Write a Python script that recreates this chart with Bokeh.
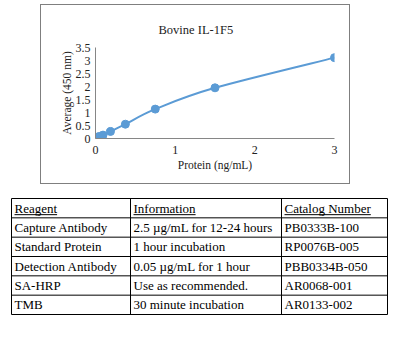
from bokeh.plotting import figure
from bokeh.layouts import column, row
from bokeh.models import Range1d, FixedTicker, CustomJSTickFormatter, Spacer
from bokeh.core.properties import value
from bokeh.embed import file_html
from bokeh.resources import INLINE

# ---- chart data ----
conc = [0, 0.023, 0.047, 0.094, 0.188, 0.375, 0.75, 1.5, 3]
od = [0.02, 0.05, 0.08, 0.13, 0.27, 0.55, 1.13, 1.95, 3.11]
x_ticks = [0, 1, 2, 3]
y_ticks = [0, 0.5, 1, 1.5, 2, 2.5, 3, 3.5]
title_text = "Bovine IL-1F5"
x_label = "Protein (ng/mL)"
y_label = "Average (450 nm)"

# ---- table data ----
headers = ["Reagent", "Information", "Catalog Number"]
reagents = ["Capture Antibody", "Standard Protein", "Detection Antibody", "SA-HRP", "TMB"]
information = ["2.5 µg/mL for 12-24 hours", "1 hour incubation", "0.05 µg/mL for 1 hour",
               "Use as recommended.", "30 minute incubation"]
catalog = ["PB0333B-100", "RP0076B-005", "PBB0334B-050", "AR0068-001", "AR0133-002"]

FONT = "Liberation Serif"
BLUE = "#5B9BD5"
TEXT = "#222222"
AXIS = "#868686"

# ---------------- chart ----------------
p = figure(width=310, height=180, x_range=Range1d(0, 3), y_range=Range1d(0, 3.5),
           output_backend="svg", toolbar_location=None, title=title_text,
           min_border_left=54, min_border_right=17, min_border_top=42, min_border_bottom=47)
p.styles = {"border": "1px solid #7f7f7f"}
p.outline_line_color = None
p.xgrid.grid_line_color = None
p.ygrid.grid_line_color = None

p.title.align = "left"
p.title.offset = 63
p.title.standoff = 21
p.title.text_font = FONT
p.title.text_font_size = "12.5px"
p.title.text_font_style = "normal"
p.title.text_color = TEXT

fmt = CustomJSTickFormatter(code="return tick.toString();")
p.xaxis.ticker = FixedTicker(ticks=x_ticks)
p.yaxis.ticker = FixedTicker(ticks=y_ticks)
p.yaxis.formatter = fmt
p.xaxis.formatter = fmt
for ax in (p.xaxis[0], p.yaxis[0]):
    ax.axis_line_color = AXIS
    ax.axis_line_width = 1
    ax.major_tick_line_color = None
    ax.major_tick_out = 0
    ax.major_tick_in = 0
    ax.minor_tick_line_color = None
    ax.major_label_text_font = FONT
    ax.major_label_text_font_size = "12px"
    ax.major_label_text_color = TEXT
    ax.axis_label_text_font = FONT
    ax.axis_label_text_font_size = "11.5px"
    ax.axis_label_text_font_style = "normal"
    ax.axis_label_text_color = TEXT
p.xaxis.major_label_standoff = 7
p.yaxis.major_label_standoff = 5
p.xaxis.axis_label_standoff = 2
p.yaxis.axis_label_standoff = 0
p.xaxis.axis_label = x_label
p.yaxis.axis_label = y_label

# smooth curve (Catmull-Rom -> cubic Bezier through the measured points)
n = len(conc)
x0s, y0s, x1s, y1s, cx0, cy0, cx1, cy1 = ([] for _ in range(8))
for i in range(n - 1):
    pa = (conc[max(i - 1, 0)], od[max(i - 1, 0)])
    pb = (conc[i], od[i])
    pc = (conc[i + 1], od[i + 1])
    pd = (conc[min(i + 2, n - 1)], od[min(i + 2, n - 1)])
    x0s.append(pb[0]); y0s.append(pb[1])
    x1s.append(pc[0]); y1s.append(pc[1])
    cx0.append(pb[0] + (pc[0] - pa[0]) / 6); cy0.append(pb[1] + (pc[1] - pa[1]) / 6)
    cx1.append(pc[0] - (pd[0] - pb[0]) / 6); cy1.append(pc[1] - (pd[1] - pb[1]) / 6)
p.bezier(x0=x0s, y0=y0s, x1=x1s, y1=y1s, cx0=cx0, cy0=cy0, cx1=cx1, cy1=cy1,
         line_color=BLUE, line_width=2)
p.scatter(conc, od, size=8, fill_color=BLUE, line_color=BLUE)

# ---------------- table ----------------
col_edges = [0, 119, 270, 376]
n_rows = len(reagents) + 1
row_h = 116 / n_rows
pad = 3
underline_w = [42.6, 62.1, 86.3]

t = figure(width=382, height=118, x_range=Range1d(-3, 379), y_range=Range1d(117, -1),
           output_backend="svg", toolbar_location=None, min_border=0)
t.axis.visible = False
t.xgrid.grid_line_color = None
t.ygrid.grid_line_color = None
t.outline_line_color = None

hy = [row_h * i for i in range(n_rows + 1)]
t.segment(x0=[col_edges[0]] * len(hy), y0=hy, x1=[col_edges[-1]] * len(hy), y1=hy,
          line_color="black", line_width=1)
t.segment(x0=col_edges, y0=[0] * len(col_edges), x1=col_edges, y1=[hy[-1]] * len(col_edges),
          line_color="black", line_width=1)

columns = [reagents, information, catalog]
for j in range(3):
    xs = [col_edges[j] + pad] * n_rows
    ys = [row_h * (r + 0.5) for r in range(n_rows)]
    t.text(x=xs, y=ys, text=[headers[j]] + columns[j], text_font=value(FONT),
           text_font_size="13px", text_color="black", text_baseline="middle",
           text_align="left")
    t.segment(x0=[col_edges[j] + pad], y0=[row_h * 0.5 + 6.5],
              x1=[col_edges[j] + pad + underline_w[j]], y1=[row_h * 0.5 + 6.5],
              line_color="black", line_width=1)

layout = column(Spacer(width=10, height=4),
                row(Spacer(width=40, height=180), p),
                Spacer(width=10, height=13),
                row(Spacer(width=8, height=118), t))
open("out.html", "w").write(file_html(layout, INLINE))
